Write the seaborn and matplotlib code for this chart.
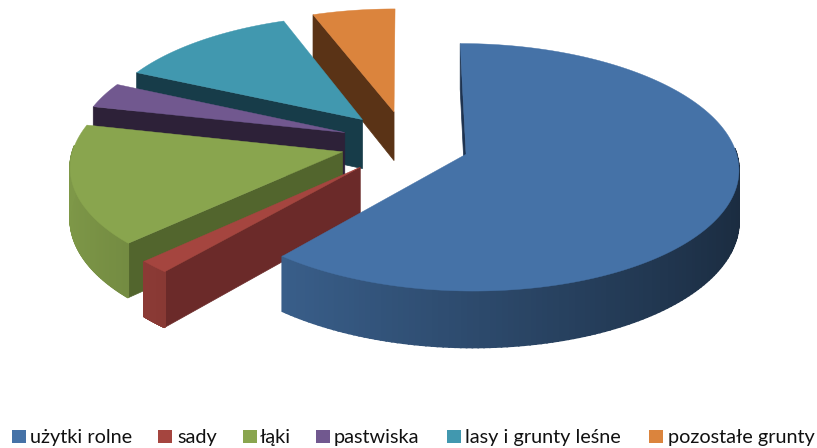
import numpy as np
import matplotlib
matplotlib.use("Agg")
import matplotlib.pyplot as plt
import seaborn as sns

# share of each land type (percent)
categories = ['użytki rolne', 'sady', 'łąki', 'pastwiska', 'lasy i grunty leśne', 'pozostałe grunty']
values = [61.1, 1.65, 15.85, 3.4, 12.4, 5.6]
hex_colors = ['#4572A7', '#A5453F', '#89A54E', '#71588F', '#4198AF', '#DB843D']
wall_colors = ['#1e3350', '#6b2a29', '#52652d', '#2d2138', '#173c49', '#5a3316']
legend_swatch_x = [12, 158, 243, 316, 447, 649]
legend_text_x = [30, 177, 260, 334, 465, 668]

# back to front, so nearer slices paint over the others
draw_order = [5, 4, 3, 2, 1, 0]

# pseudo 3D camera, all in pixels of the 817x448 picture
CX, CY = 405, 143
RX, RY = 268, 120
PERSP = 0.105
DEPTH = 50
EXPLODE_U = 0.24
EXPLODE_V = 0.27

sns.set_style("white")
plt.rcParams['font.family'] = ['Lato', 'DejaVu Sans']
palette = sns.color_palette(hex_colors)


def project(u, v, z=0.0):
    p = 1 / (1 + PERSP * v)
    return CX + RX * u * p, CY - RY * v * p + DEPTH * z * p


def slice_angles(vals):
    edges = np.cumsum([0] + list(vals)) / np.sum(vals) * 2 * np.pi
    return list(zip(edges[:-1], edges[1:]))


def draw_slice(ax, a0, a1, top_color, wall_color):
    mid = (a0 + a1) / 2
    du, dv = EXPLODE_U * np.sin(mid), EXPLODE_V * np.cos(mid)
    th = np.linspace(a0, a1, 200)
    u, v = du + np.sin(th), dv + np.cos(th)

    # cut walls from the tip out to the edge, only those facing the camera
    for a, visible in ((a0, np.sin(a0) <= 1e-9), (a1, np.sin(a1) > 1e-9)):
        if not visible:
            continue
        eu, ev = du + np.sin(a), dv + np.cos(a)
        xs, ys = zip(project(du, dv), project(eu, ev), project(eu, ev, 1), project(du, dv, 1))
        ax.fill(xs, ys, color=wall_color, lw=0.5, zorder=1)

    # outer rim, shaded from left to right; the far side of the rim is hidden
    for i in range(len(th) - 1):
        t = (th[i] + th[i + 1]) / 2
        if np.cos(t) > 0.05:
            continue
        shade = 0.65 - 0.27 * np.sin(t)
        col = tuple(c * shade for c in top_color)
        xs, ys = zip(project(u[i], v[i]), project(u[i + 1], v[i + 1]),
                     project(u[i + 1], v[i + 1], 1), project(u[i], v[i], 1))
        ax.fill(xs, ys, color=col, lw=1.2, zorder=1)

    # top face
    x, y = project(u, v)
    tx, ty = project(du, dv)
    ax.fill(np.r_[tx, x], np.r_[ty, y], color=top_color, lw=0.3, zorder=1)


fig = plt.figure(figsize=(8.17, 4.48), dpi=100)
ax = fig.add_axes([0, 0, 1, 1])
ax.set_xlim(0, 817)
ax.set_ylim(448, 0)
ax.set_axis_off()

angles = slice_angles(values)
for idx in draw_order:
    a0, a1 = angles[idx]
    draw_slice(ax, a0, a1, palette[idx], wall_colors[idx])

# legend row along the bottom
for name, col, sx, tx in zip(categories, palette, legend_swatch_x, legend_text_x):
    ax.fill([sx, sx + 14, sx + 14, sx], [430, 430, 443, 443], color=col, lw=0)
    ax.text(tx, 437, name, fontsize=14.3, color='#111111', va='center', ha='left')

fig.savefig('out.png', dpi=100)
